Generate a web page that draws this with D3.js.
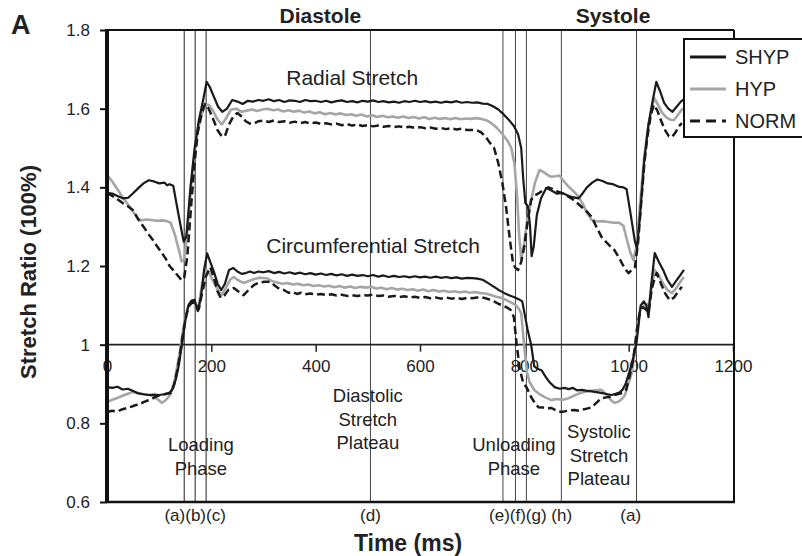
<!DOCTYPE html>
<html>
<head>
<meta charset="utf-8">
<script src="https://cdn.jsdelivr.net/npm/d3@7"></script>
<style>
  body { margin: 0; background: #fff; }
  text { font-family: "Liberation Sans", Arial, sans-serif; fill: #222; }
</style>
</head>
<body>
<div id="chart"></div>
<script>
// time (ms) / stretch ratio
const radialSHYP = [[0,1.386],[10,1.384],[20,1.378],[30,1.372],[40,1.373],[50,1.385],[60,1.398],[70,1.41],[80,1.418],[90,1.415],[100,1.41],[110,1.412],[115,1.405],[120,1.408],[127,1.404],[133,1.36],[140,1.31],[147,1.262],[152,1.275],[160,1.4],[168,1.5],[176,1.57],[184,1.62],[191,1.668],[197,1.655],[205,1.63],[213,1.605],[221,1.592],[230,1.6],[240,1.622],[250,1.618],[260,1.612],[270,1.62],[280,1.618],[290,1.622],[300,1.62],[310,1.624],[320,1.619],[330,1.622],[340,1.617],[350,1.621],[360,1.62],[370,1.617],[380,1.622],[390,1.619],[400,1.62],[410,1.617],[420,1.62],[430,1.616],[440,1.619],[450,1.621],[460,1.617],[470,1.619],[480,1.616],[490,1.62],[500,1.618],[510,1.621],[520,1.617],[530,1.619],[540,1.616],[550,1.618],[560,1.615],[570,1.619],[580,1.617],[590,1.62],[600,1.617],[610,1.619],[620,1.616],[630,1.618],[640,1.615],[650,1.618],[660,1.616],[670,1.619],[680,1.615],[690,1.617],[700,1.615],[710,1.616],[720,1.613],[730,1.612],[740,1.606],[750,1.598],[760,1.586],[770,1.572],[780,1.556],[788,1.535],[794,1.5],[798,1.42],[802,1.36],[807,1.352],[811,1.3],[814,1.225],[818,1.25],[824,1.33],[832,1.372],[842,1.398],[852,1.392],[862,1.384],[872,1.386],[882,1.38],[892,1.375],[904,1.372],[912,1.385],[920,1.4],[930,1.412],[940,1.42],[950,1.416],[960,1.41],[970,1.408],[980,1.402],[990,1.4],[996,1.395],[1004,1.33],[1012,1.262],[1016,1.245],[1022,1.33],[1030,1.47],[1038,1.56],[1046,1.62],[1053,1.668],[1060,1.645],[1068,1.615],[1076,1.6],[1084,1.592],[1092,1.605],[1100,1.618],[1106,1.624]]

const radialHYP = [[0,1.431],[10,1.415],[20,1.395],[30,1.375],[40,1.357],[50,1.338],[60,1.32],[65,1.316],[75,1.318],[85,1.317],[95,1.315],[105,1.316],[115,1.314],[122,1.31],[130,1.28],[137,1.245],[143,1.212],[148,1.215],[155,1.3],[163,1.43],[172,1.53],[180,1.58],[188,1.61],[195,1.61],[203,1.595],[212,1.572],[220,1.56],[228,1.575],[238,1.598],[248,1.6],[258,1.592],[268,1.595],[278,1.598],[288,1.594],[298,1.598],[308,1.6],[318,1.596],[328,1.598],[338,1.593],[348,1.596],[358,1.592],[368,1.595],[378,1.59],[388,1.593],[398,1.588],[408,1.591],[418,1.586],[428,1.589],[438,1.585],[448,1.588],[458,1.584],[468,1.586],[478,1.582],[488,1.585],[498,1.58],[508,1.583],[518,1.579],[528,1.582],[538,1.578],[548,1.58],[558,1.577],[568,1.58],[578,1.576],[588,1.579],[598,1.575],[608,1.578],[618,1.574],[628,1.577],[638,1.574],[648,1.576],[658,1.573],[668,1.576],[678,1.573],[688,1.575],[698,1.574],[708,1.576],[718,1.574],[728,1.57],[738,1.562],[748,1.55],[758,1.535],[768,1.518],[775,1.5],[781,1.46],[786,1.38],[790,1.28],[794,1.218],[800,1.26],[806,1.32],[812,1.36],[820,1.41],[829,1.444],[838,1.438],[846,1.43],[852,1.427],[860,1.428],[867,1.43],[876,1.415],[886,1.4],[896,1.388],[904,1.376],[912,1.358],[920,1.335],[929,1.317],[940,1.313],[950,1.314],[961,1.312],[972,1.31],[982,1.31],[990,1.302],[996,1.27],[1003,1.235],[1009,1.215],[1015,1.25],[1022,1.36],[1030,1.48],[1038,1.56],[1044,1.6],[1049,1.627],[1056,1.61],[1064,1.59],[1072,1.578],[1080,1.572],[1087,1.571],[1095,1.585],[1102,1.598],[1106,1.6]]

const radialNORM = [[0,1.386],[10,1.378],[20,1.37],[30,1.36],[40,1.352],[50,1.342],[60,1.318],[70,1.3],[80,1.28],[88,1.266],[96,1.25],[104,1.235],[112,1.22],[120,1.2],[128,1.188],[136,1.175],[143,1.164],[148,1.17],[154,1.225],[160,1.33],[167,1.45],[174,1.54],[182,1.59],[188,1.612],[195,1.6],[203,1.575],[212,1.545],[220,1.53],[226,1.53],[234,1.56],[242,1.58],[250,1.589],[258,1.58],[266,1.568],[274,1.562],[282,1.562],[290,1.568],[300,1.57],[310,1.566],[320,1.57],[330,1.566],[340,1.568],[350,1.564],[360,1.567],[370,1.563],[380,1.566],[390,1.562],[400,1.565],[410,1.561],[420,1.563],[430,1.56],[440,1.562],[450,1.558],[460,1.561],[470,1.557],[480,1.56],[490,1.556],[500,1.558],[510,1.555],[520,1.557],[530,1.554],[540,1.556],[550,1.553],[560,1.555],[570,1.552],[580,1.554],[590,1.551],[600,1.553],[610,1.55],[620,1.552],[630,1.549],[640,1.551],[650,1.548],[660,1.55],[670,1.547],[680,1.549],[690,1.546],[700,1.546],[710,1.544],[717,1.54],[725,1.53],[733,1.515],[742,1.5],[750,1.462],[758,1.41],[765,1.35],[772,1.27],[778,1.21],[783,1.195],[788,1.19],[794,1.21],[800,1.25],[806,1.31],[813,1.368],[821,1.38],[829,1.386],[838,1.395],[846,1.4],[854,1.396],[862,1.39],[871,1.386],[880,1.38],[890,1.372],[900,1.362],[910,1.35],[920,1.338],[929,1.325],[938,1.3],[948,1.274],[956,1.262],[965,1.25],[973,1.24],[982,1.22],[990,1.2],[996,1.188],[1000,1.182],[1006,1.19],[1012,1.197],[1018,1.26],[1024,1.36],[1030,1.46],[1036,1.53],[1042,1.58],[1048,1.61],[1055,1.595],[1062,1.57],[1070,1.545],[1077,1.53],[1083,1.528],[1090,1.54],[1096,1.555],[1102,1.563]]

const circSHYP = [[0,0.892],[10,0.89],[20,0.893],[30,0.886],[40,0.888],[50,0.882],[60,0.876],[70,0.874],[80,0.872],[90,0.873],[100,0.872],[110,0.874],[118,0.876],[125,0.885],[132,0.912],[138,0.95],[144,1.004],[150,1.06],[156,1.1],[162,1.112],[168,1.114],[174,1.085],[180,1.12],[186,1.19],[192,1.232],[198,1.21],[205,1.185],[212,1.155],[219,1.139],[226,1.155],[234,1.19],[242,1.195],[250,1.186],[258,1.18],[266,1.182],[274,1.186],[282,1.182],[290,1.186],[300,1.184],[310,1.187],[320,1.182],[330,1.185],[340,1.181],[350,1.184],[360,1.18],[370,1.183],[380,1.179],[390,1.182],[400,1.178],[410,1.181],[420,1.177],[430,1.18],[440,1.176],[450,1.179],[460,1.175],[470,1.178],[480,1.175],[490,1.177],[500,1.174],[510,1.177],[520,1.173],[530,1.176],[540,1.172],[550,1.175],[560,1.172],[570,1.174],[580,1.171],[590,1.174],[600,1.171],[610,1.173],[620,1.17],[630,1.173],[640,1.17],[650,1.172],[660,1.169],[670,1.171],[680,1.168],[690,1.17],[700,1.169],[710,1.168],[720,1.165],[730,1.157],[742,1.147],[752,1.138],[762,1.131],[772,1.125],[782,1.12],[790,1.115],[796,1.11],[801,1.075],[806,1.04],[813,1.0],[819,0.945],[826,0.938],[833,0.935],[840,0.92],[848,0.905],[858,0.892],[868,0.888],[877,0.89],[885,0.887],[893,0.89],[901,0.884],[910,0.885],[918,0.883],[926,0.882],[935,0.88],[944,0.878],[952,0.876],[960,0.874],[967,0.872],[975,0.875],[982,0.878],[988,0.885],[994,0.9],[1000,0.925],[1006,0.95],[1011,0.98],[1015,1.004],[1019,1.05],[1023,1.1],[1029,1.11],[1034,1.1],[1038,1.07],[1043,1.15],[1050,1.233],[1058,1.21],[1066,1.19],[1074,1.165],[1083,1.147],[1090,1.16],[1098,1.175],[1106,1.19]]

const circHYP = [[0,0.854],[10,0.86],[19,0.864],[30,0.87],[40,0.875],[50,0.88],[60,0.877],[70,0.874],[83,0.872],[92,0.866],[100,0.858],[105,0.852],[112,0.858],[121,0.872],[128,0.9],[134,0.94],[140,0.985],[146,1.04],[152,1.08],[158,1.105],[164,1.11],[170,1.1],[176,1.1],[182,1.15],[190,1.19],[197,1.18],[204,1.16],[212,1.14],[220,1.126],[228,1.145],[236,1.165],[243,1.172],[252,1.163],[262,1.157],[272,1.162],[282,1.167],[292,1.17],[306,1.169],[316,1.162],[326,1.158],[336,1.155],[346,1.157],[356,1.153],[366,1.155],[376,1.151],[386,1.153],[396,1.149],[406,1.151],[416,1.148],[426,1.15],[436,1.146],[446,1.149],[456,1.145],[466,1.148],[476,1.144],[486,1.147],[496,1.145],[506,1.147],[516,1.143],[526,1.145],[536,1.141],[546,1.144],[556,1.14],[566,1.142],[576,1.139],[586,1.141],[596,1.137],[606,1.14],[616,1.136],[626,1.139],[636,1.135],[646,1.137],[656,1.134],[666,1.136],[676,1.133],[686,1.135],[696,1.132],[706,1.134],[716,1.131],[726,1.13],[736,1.126],[746,1.122],[756,1.119],[766,1.113],[776,1.106],[784,1.1],[790,1.09],[794,1.08],[800,0.994],[805,0.93],[810,0.905],[819,0.885],[828,0.875],[840,0.866],[852,0.859],[862,0.862],[874,0.86],[885,0.864],[895,0.87],[905,0.876],[916,0.88],[926,0.882],[936,0.884],[948,0.885],[955,0.876],[961,0.867],[967,0.858],[973,0.852],[980,0.855],[987,0.862],[993,0.872],[999,0.9],[1006,0.928],[1012,0.98],[1017,1.05],[1022,1.09],[1028,1.1],[1034,1.095],[1040,1.11],[1046,1.16],[1050,1.19],[1058,1.175],[1066,1.155],[1075,1.138],[1083,1.131],[1092,1.145],[1100,1.162],[1106,1.172]]

const circNORM = [[0,0.829],[10,0.832],[20,0.83],[30,0.836],[38,0.839],[46,0.842],[54,0.846],[62,0.848],[70,0.854],[78,0.858],[86,0.862],[94,0.868],[102,0.872],[110,0.874],[116,0.876],[122,0.877],[128,0.895],[134,0.93],[140,0.975],[146,1.03],[152,1.075],[158,1.1],[164,1.108],[170,1.105],[176,1.09],[182,1.13],[190,1.175],[198,1.197],[205,1.17],[212,1.135],[218,1.119],[225,1.125],[233,1.14],[243,1.144],[252,1.135],[262,1.126],[272,1.14],[282,1.152],[292,1.158],[302,1.16],[313,1.16],[322,1.15],[330,1.142],[339,1.139],[348,1.132],[356,1.134],[364,1.129],[372,1.132],[380,1.128],[390,1.13],[400,1.127],[410,1.129],[420,1.126],[430,1.128],[440,1.125],[450,1.127],[460,1.124],[470,1.126],[480,1.124],[490,1.126],[500,1.125],[510,1.127],[520,1.124],[530,1.125],[540,1.122],[550,1.124],[560,1.121],[570,1.123],[580,1.12],[590,1.122],[600,1.119],[610,1.121],[620,1.118],[630,1.12],[640,1.117],[650,1.12],[660,1.117],[670,1.119],[680,1.116],[690,1.119],[700,1.118],[710,1.12],[723,1.119],[733,1.115],[742,1.11],[750,1.104],[758,1.1],[766,1.095],[774,1.088],[780,1.07],[785,1.004],[791,0.94],[798,0.902],[804,0.892],[813,0.867],[820,0.852],[827,0.841],[836,0.84],[845,0.838],[852,0.839],[862,0.832],[871,0.829],[880,0.831],[888,0.833],[896,0.834],[905,0.832],[915,0.836],[922,0.838],[929,0.841],[938,0.852],[948,0.864],[957,0.866],[965,0.868],[973,0.872],[982,0.875],[990,0.878],[995,0.885],[1000,0.91],[1006,0.943],[1011,0.985],[1016,1.04],[1021,1.08],[1027,1.095],[1033,1.09],[1038,1.08],[1044,1.14],[1050,1.17],[1054,1.182],[1062,1.155],[1070,1.13],[1079,1.113],[1087,1.12],[1095,1.135],[1102,1.147]]

const seriesNames = ["SHYP", "HYP", "NORM"]
const phaseTimes = [148, 169, 190, 505, 759, 783, 804, 871, 1015]
const phaseMarks = [[169, "(a)(b)(c)"], [505, "(d)"], [812, "(e)(f)(g) (h)"], [1004, "(a)"]]
const phaseNames = [[180, ["Loading", "Phase"]], [500, ["Diastolic", "Stretch", "Plateau"]], [780, ["Unloading", "Phase"]], [943, ["Systolic", "Stretch", "Plateau"]]]
const xTicks = [0, 200, 400, 600, 800, 1000, 1200]
const yTicks = [0.6, 0.8, 1, 1.2, 1.4, 1.6, 1.8]

const ancho = 802
const alto = 556
const margen = { izquierdo: 107, derecho: 69, superior: 30, inferior: 54 }

const estilos = {
    SHYP: { color: "#1a1a1a", width: 2.2, dash: null },
    HYP: { color: "#a6a6a6", width: 2.6, dash: null },
    NORM: { color: "#1a1a1a", width: 2.5, dash: "8,4" }
}

const svg = d3.select("#chart").append("svg").attr("width", ancho).attr("height", alto)

const x = d3.scaleLinear().domain([0, 1200]).range([margen.izquierdo, ancho - margen.derecho])
const y = d3.scaleLinear().domain([0.6, 1.8]).range([alto - margen.inferior, margen.superior])

// phase lines
svg.append("g").selectAll("line").data(phaseTimes).enter().append("line")
    .attr("x1", d => x(d)).attr("x2", d => x(d))
    .attr("y1", y(1.8)).attr("y2", y(0.6))
    .attr("stroke", (d, i) => i < 3 ? "#222" : "#444")
    .attr("stroke-width", 1)

// x axis sits on ratio = 1
const ejeX = d3.axisBottom(x).tickValues(xTicks).tickSize(7).tickPadding(8).tickFormat(d3.format("d"))
const grupoX = svg.append("g").attr("transform", `translate(0, ${y(1)})`).call(ejeX)
grupoX.select(".domain").remove()
grupoX.selectAll("line").attr("stroke", "#222").attr("stroke-width", 1.5)
grupoX.selectAll("text").attr("font-size", 17).attr("fill", "#222")
svg.append("line").attr("x1", x(0)).attr("x2", x(1200)).attr("y1", y(1)).attr("y2", y(1))
    .attr("stroke", "#222").attr("stroke-width", 1.6)

// curves
const linea = d3.line().x(d => x(d[0])).y(d => y(d[1]))
const curvas = [
    ["HYP", radialHYP], ["NORM", radialNORM], ["SHYP", radialSHYP],
    ["HYP", circHYP], ["NORM", circNORM], ["SHYP", circSHYP]
]
curvas.forEach(c => {
    const s = estilos[c[0]]
    svg.append("path").datum(c[1]).attr("d", linea)
        .attr("fill", "none").attr("stroke", s.color).attr("stroke-width", s.width)
        .attr("stroke-dasharray", s.dash).attr("stroke-linejoin", "round")
})

// frame
svg.append("line").attr("x1", x(0)).attr("x2", x(1200) + 1).attr("y1", y(1.8)).attr("y2", y(1.8)).attr("stroke", "#111").attr("stroke-width", 2)
svg.append("line").attr("x1", x(1200) + 1).attr("x2", x(1200) + 1).attr("y1", y(1.8)).attr("y2", y(0.6)).attr("stroke", "#111").attr("stroke-width", 2)
svg.append("line").attr("x1", x(0)).attr("x2", x(1200) + 2).attr("y1", y(0.6)).attr("y2", y(0.6)).attr("stroke", "#111").attr("stroke-width", 2.5)

const ejeY = d3.axisLeft(y).tickValues(yTicks).tickSize(7).tickPadding(10).tickFormat(d => String(+d.toFixed(1)))
const grupoY = svg.append("g").attr("transform", `translate(${x(0)}, 0)`).call(ejeY)
grupoY.select(".domain").remove()
grupoY.selectAll("line").attr("stroke", "#111").attr("stroke-width", 2)
grupoY.selectAll("text").attr("font-size", 17).attr("fill", "#222")
svg.append("line").attr("x1", x(0)).attr("x2", x(0)).attr("y1", y(1.8) - 1).attr("y2", y(0.6) + 1)
    .attr("stroke", "#111").attr("stroke-width", 4)

// labels under the plot
svg.append("g").selectAll("text").data(phaseMarks).enter().append("text")
    .attr("x", d => x(d[0])).attr("y", y(0.6) + 19)
    .attr("text-anchor", "middle").attr("font-size", 17).text(d => d[1])

phaseNames.forEach(p => {
    const n = p[1].length
    const base = n == 2 ? 451 : (p[0] < 700 ? 402 : 438)
    p[1].forEach((t, i) => {
        svg.append("text").attr("x", x(p[0])).attr("y", base + i * 23.5)
            .attr("text-anchor", "middle").attr("font-size", 18.5).text(t)
    })
})

svg.append("text").attr("x", x(470)).attr("y", y(1.66)).attr("text-anchor", "middle").attr("font-size", 21).text("Radial Stretch")
svg.append("text").attr("x", x(510)).attr("y", y(1.232)).attr("text-anchor", "middle").attr("font-size", 21).text("Circumferential Stretch")

// titles
svg.append("text").attr("x", 11).attr("y", 34).attr("font-size", 27).attr("font-weight", "bold").attr("fill", "#111").text("A")
svg.append("text").attr("x", x(409)).attr("y", 23).attr("text-anchor", "middle").attr("font-size", 21).attr("font-weight", "bold").attr("fill", "#111").text("Diastole")
svg.append("text").attr("x", x(970)).attr("y", 23).attr("text-anchor", "middle").attr("font-size", 21).attr("font-weight", "bold").attr("fill", "#111").text("Systole")
svg.append("text").attr("x", 408).attr("y", 551).attr("text-anchor", "middle").attr("font-size", 23).attr("font-weight", "bold").attr("fill", "#111").text("Time (ms)")
svg.append("text").attr("transform", `translate(36, 272) rotate(-90)`).attr("text-anchor", "middle")
    .attr("font-size", 22).attr("font-weight", "bold").attr("fill", "#111").text("Stretch Ratio (100%)")

// legend
const leyenda = svg.append("g").attr("transform", "translate(684, 39)")
leyenda.append("rect").attr("width", 130).attr("height", 98).attr("fill", "#fff").attr("stroke", "#111").attr("stroke-width", 2)
seriesNames.forEach((n, i) => {
    const s = estilos[n]
    leyenda.append("line").attr("x1", 6).attr("x2", 42).attr("y1", 18 + i * 32).attr("y2", 18 + i * 32)
        .attr("stroke", s.color).attr("stroke-width", s.width + 0.6).attr("stroke-dasharray", s.dash ? "10,6" : null)
    leyenda.append("text").attr("x", 51).attr("y", 25 + i * 32).attr("font-size", 20).text(n)
})
</script>
</body>
</html>
